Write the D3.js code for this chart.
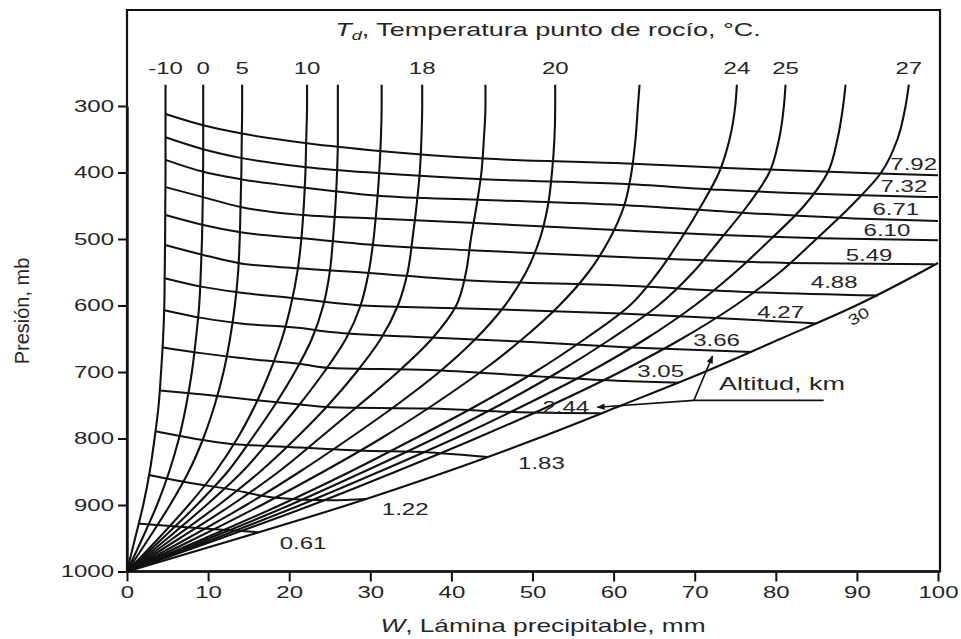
<!DOCTYPE html>
<html>
<head>
<meta charset="utf-8">
<script src="https://cdn.jsdelivr.net/npm/d3@7"></script>
<style>
  body { margin: 0; background: #fff; }
  svg text { font-family: "Liberation Sans", Arial, sans-serif; fill: #262626; }
</style>
</head>
<body>
<svg id="grafico" width="961" height="639"></svg>
<script>
'use strict';

// ticks
var wTicks = [0, 10, 20, 30, 40, 50, 60, 70, 80, 90, 100];
var presionTicks = [300, 400, 500, 600, 700, 800, 900, 1000];

// pressure levels (mb) at which each dew-point curve was read, top to bottom
var niveles = [268, 300, 350, 400, 450, 500, 550, 600, 650, 700, 750, 800, 850, 900, 950, 1000];

// precipitable water W (mm) of each dew-point curve at those levels, left to right
var wTd1 = [4.75, 4.75, 4.75, 4.75, 4.72, 4.7, 4.65, 4.6, 4.45, 4.2, 3.9, 3.4, 2.8, 2.0, 1.0, 0];
var wTd2 = [9.4, 9.4, 9.4, 9.38, 9.33, 9.25, 9.1, 8.9, 8.5, 8.0, 7.3, 6.4, 5.2, 3.7, 1.9, 0];
var wTd3 = [14.2, 14.2, 14.15, 14.1, 14.0, 13.9, 13.7, 13.3, 12.7, 11.9, 10.8, 9.4, 7.6, 5.3, 2.7, 0];
var wTd4 = [22.2, 22.2, 22.1, 22.0, 21.8, 21.5, 21.0, 20.2, 19.1, 17.6, 15.8, 13.6, 10.9, 7.6, 3.9, 0];
var wTd5 = [26.0, 26.0, 26.0, 25.9, 25.7, 25.4, 25.0, 24.2, 22.8, 20.7, 18.2, 15.4, 12.4, 8.6, 4.4, 0];
var wTd6 = [31.4, 31.4, 31.3, 31.1, 30.8, 30.4, 29.8, 28.8, 27.0, 24.3, 21.2, 17.8, 14.2, 9.8, 5.0, 0];
var wTd7 = [36.4, 36.4, 36.3, 36.1, 35.7, 35.2, 34.6, 33.4, 31.3, 28.3, 24.8, 20.8, 16.4, 11.3, 5.7, 0];
var wTd8 = [44.2, 44.2, 44.0, 43.7, 43.1, 42.4, 41.8, 40.6, 37.6, 33.4, 28.6, 23.7, 18.7, 12.9, 6.5, 0];
var wTd9 = [52.8, 52.8, 52.7, 52.4, 51.9, 50.9, 49.2, 46.6, 43.0, 38.5, 33.2, 27.4, 21.3, 14.7, 7.5, 0];
var wTd10 = [63.2, 63.0, 62.7, 62.2, 61.3, 59.5, 56.9, 53.3, 48.8, 43.6, 37.7, 31.3, 24.2, 16.6, 8.5, 0];
var wTd11 = [75.2, 75.0, 74.3, 73.0, 70.8, 68.3, 65.5, 62.0, 56.5, 50.3, 43.2, 35.5, 27.5, 18.9, 9.6, 0];
var wTd12 = [81.2, 81.0, 80.4, 79.2, 76.5, 73.2, 69.8, 65.5, 59.7, 53.2, 45.9, 37.9, 29.2, 20.1, 10.2, 0];
var wTd13 = [88.6, 88.3, 87.6, 86.4, 83.5, 79.4, 75.0, 70.0, 64.0, 57.0, 49.0, 40.4, 31.1, 21.4, 10.9, 0];
var wTd14 = [96.4, 96.0, 95.0, 93.0, 89.3, 85.0, 80.5, 75.0, 68.4, 60.8, 52.3, 43.0, 33.1, 22.8, 11.6, 0];
var etiquetasRocio = ['-10', '0', '5', '10', '', '', '18', '', '20', '', '24', '25', '', '27'];

// lower envelope (30 °C curve), ends on the right border
var nivelesEnvolvente = [536, 550, 600, 650, 700, 750, 800, 850, 900, 950, 1000];
var wEnvolvente = [100, 97.9, 89.9, 80.6, 71.2, 61.0, 50.6, 39.4, 27.2, 13.8, 0];

// altitude lines, [W mm, p mb]
var alt061 = [[1.4, 928], [9.0, 935], [16.2, 941]];
var alt122 = [[2.7, 855], [7.8, 867], [12.1, 875], [18.3, 889], [25.1, 893], [29.6, 891]];
var alt183 = [[3.5, 789], [12.1, 807], [20.4, 813], [28.5, 818], [37.4, 821], [44.5, 828]];
var alt244 = [[4.05, 728], [9.4, 734], [14.0, 740], [21.4, 749], [25.1, 753], [37.4, 755], [49.8, 761], [58.4, 762]];
var alt305 = [[4.4, 663], [9.4, 672], [14.0, 679], [21.4, 688], [25.1, 694], [37.4, 697], [49.8, 706], [62.1, 714], [68.0, 716]];
var alt366 = [[4.6, 607], [9.4, 619], [14.0, 627], [21.4, 634], [25.1, 640], [37.4, 648], [49.8, 655], [62.1, 663], [77.0, 670]];
var alt427 = [[4.65, 559], [9.3, 572], [13.6, 580], [20.5, 589], [29.0, 600], [40.9, 604], [60.9, 612], [73.2, 619], [85.0, 627]];
var alt488 = [[4.7, 509], [9.4, 524], [13.7, 536], [21.1, 544], [29.8, 551], [41.7, 562], [60.9, 570], [77.3, 580], [92.6, 585]];
var alt549 = [[4.75, 464], [9.4, 479], [14.0, 490], [21.6, 499], [30.4, 509], [42.3, 517], [60.9, 527], [81.5, 536], [99.5, 538]];
var alt610 = [[4.75, 422], [9.4, 437], [14.0, 452], [21.7, 464], [30.6, 469], [43.0, 476], [60.9, 487], [73.2, 494], [85.6, 499], [100, 502]];
var alt671 = [[4.75, 381], [9.4, 399], [14.0, 410], [22.0, 423], [31.0, 435], [43.3, 441], [60.9, 449], [75.3, 460], [89.6, 469], [100, 473]];
var alt732 = [[4.75, 347], [9.4, 365], [14.0, 378], [22.2, 392], [31.2, 401], [43.8, 410], [60.9, 417], [73.2, 426], [89.6, 434], [100, 437]];
var alt792 = [[4.75, 312], [9.4, 329], [14.0, 341], [22.2, 356], [31.5, 368], [44.0, 379], [60.9, 386], [73.2, 393], [91.7, 401], [100, 404]];
var etiquetasAltitud = ['0.61', '1.22', '1.83', '2.44', '3.05', '3.66', '4.27', '4.88', '5.49', '6.10', '6.71', '7.32', '7.92'];

// where the altitude labels sit, [W, p]
var posEtiquetasAltitud = [[21.7, 958], [34.3, 907], [51.1, 837], [54.1, 753], [65.8, 699], [72.7, 652],
  [80.6, 610], [87.2, 565], [91.5, 524], [93.7, 487], [94.8, 455], [95.8, 420], [97.0, 387]];

var svg = d3.select('#grafico');
var x = d3.scaleLinear().domain([0, 100]).range([127, 938]);
var y = d3.scaleLinear().domain([300, 1000]).range([106, 571.5]);
var ancho = 1.5; // lettering in the scan is stretched sideways

function escala(px, py) {
  return 'translate(' + px + ',' + py + ') scale(' + ancho + ',1)';
}

var linea = d3.line()
  .x(function (d) { return x(d[0]); })
  .y(function (d) { return y(d[1]); });

// frame
svg.append('path')
  .attr('d', 'M' + x(0) + ',' + y(1000) + 'V10H' + (x(100) + 2) + 'V' + y(1000) + 'Z')
  .attr('fill', 'none').attr('stroke', '#111').attr('stroke-width', 2.2);

// dew-point curves
var curvasRocio = [wTd1, wTd2, wTd3, wTd4, wTd5, wTd6, wTd7, wTd8, wTd9, wTd10, wTd11, wTd12, wTd13, wTd14];
var lineaRocio = d3.line()
  .x(function (d) { return x(d[0]); })
  .y(function (d) { return y(d[1]); })
  .curve(d3.curveMonotoneY);

svg.append('g').selectAll('path').data(curvasRocio).enter()
  .append('path')
  .attr('d', function (ws) { return lineaRocio(ws.map(function (w, i) { return [w, niveles[i]]; })); })
  .attr('fill', 'none').attr('stroke', '#111').attr('stroke-width', 2.1);

svg.append('path')
  .attr('d', lineaRocio(wEnvolvente.map(function (w, i) { return [w, nivelesEnvolvente[i]]; })))
  .attr('fill', 'none').attr('stroke', '#111').attr('stroke-width', 2.1);

// altitude lines
var lineasAltitud = [alt061, alt122, alt183, alt244, alt305, alt366, alt427, alt488, alt549, alt610, alt671, alt732, alt792];
var lineaAltitud = d3.line()
  .x(function (d) { return x(d[0]); })
  .y(function (d) { return y(d[1]); })
  .curve(d3.curveMonotoneX);

svg.append('g').selectAll('path').data(lineasAltitud).enter()
  .append('path')
  .attr('d', lineaAltitud)
  .attr('fill', 'none').attr('stroke', '#111').attr('stroke-width', 2);

svg.append('g').selectAll('text').data(etiquetasAltitud).enter()
  .append('text')
  .attr('transform', function (d, i) { return escala(x(posEtiquetasAltitud[i][0]), y(posEtiquetasAltitud[i][1])); })
  .attr('text-anchor', 'middle').attr('dy', '0.36em')
  .style('font-size', '16px')
  .text(function (d) { return d; });

// dew-point labels on top of the curves
svg.append('g').selectAll('text').data(curvasRocio).enter()
  .append('text')
  .attr('transform', function (ws) { return escala(x(ws[0]), 68); })
  .attr('text-anchor', 'middle').attr('dy', '0.36em')
  .style('font-size', '16px')
  .text(function (ws, i) { return etiquetasRocio[i]; });

// label of the envelope
svg.append('text')
  .attr('transform', 'translate(' + x(90.2) + ',' + y(616) + ') rotate(-30) scale(1.3,1)')
  .attr('text-anchor', 'middle').attr('dy', '0.36em')
  .style('font-size', '15px')
  .text('30');

// "Altitud, km" callout
var defs = svg.append('defs');
defs.append('marker').attr('id', 'flecha')
  .attr('viewBox', '0 0 10 10').attr('refX', 9).attr('refY', 5)
  .attr('markerUnits', 'userSpaceOnUse').attr('markerWidth', 12).attr('markerHeight', 8)
  .attr('orient', 'auto')
  .append('path').attr('d', 'M0,1L10,5L0,9Z').attr('fill', '#111');

var guiaAltitud = [[85.9, 742.6], [69.9, 742.6]];
var flechaArriba = [[69.9, 742.6], [72.2, 676]];
var flechaIzquierda = [[69.9, 742.6], [58.0, 753]];
svg.append('path').attr('d', linea(guiaAltitud))
  .attr('fill', 'none').attr('stroke', '#111').attr('stroke-width', 1.6);
[flechaArriba, flechaIzquierda].forEach(function (f) {
  svg.append('path').attr('d', linea(f))
    .attr('fill', 'none').attr('stroke', '#111').attr('stroke-width', 1.6)
    .attr('marker-end', 'url(#flecha)');
});
svg.append('text')
  .attr('transform', escala(x(73.0), y(717)))
  .attr('dy', '0.36em')
  .style('font-size', '18px')
  .text('Altitud, km');

// axes
var ejeX = svg.append('g')
  .attr('transform', 'translate(0,' + y(1000) + ')')
  .call(d3.axisBottom(x).tickValues(wTicks).tickSize(10).tickSizeOuter(0).tickPadding(5));
ejeX.attr('font-size', null).attr('font-family', null);
ejeX.select('.domain').attr('d', 'M' + x(0) + ',0H' + (x(100) + 2)).attr('stroke', '#111').attr('stroke-width', 2.4);
ejeX.selectAll('.tick line').attr('stroke', '#111').attr('stroke-width', 2);
ejeX.selectAll('.tick text').attr('transform', 'scale(' + ancho + ',1)').style('font-size', '16px').attr('fill', null);

var ejeY = svg.append('g')
  .attr('transform', 'translate(' + x(0) + ',0)')
  .call(d3.axisLeft(y).tickValues(presionTicks).tickFormat(d3.format('d')).tickSize(9).tickSizeOuter(0));
ejeY.attr('font-size', null).attr('font-family', null);
ejeY.select('.domain').attr('stroke', '#111').attr('stroke-width', 2.4);
ejeY.selectAll('.tick line').attr('stroke', '#111').attr('stroke-width', 2);
ejeY.selectAll('.tick text').attr('x', 0).attr('transform', 'translate(-13,0) scale(' + ancho + ',1)')
  .style('font-size', '16px').attr('fill', null);

// titles
var titulo = svg.append('text')
  .attr('transform', escala(548, 36))
  .attr('text-anchor', 'middle')
  .style('font-size', '18px');
titulo.append('tspan').style('font-style', 'italic').text('T');
titulo.append('tspan').style('font-style', 'italic').style('font-size', '12px').attr('dy', 4).text('d');
titulo.append('tspan').attr('dy', -4).text(', Temperatura punto de rocío, °C.');

var tituloX = svg.append('text')
  .attr('transform', escala(543, 632))
  .attr('text-anchor', 'middle')
  .style('font-size', '17.5px');
tituloX.append('tspan').style('font-style', 'italic').text('W');
tituloX.append('tspan').text(', Lámina precipitable, mm');

svg.append('text')
  .attr('transform', 'translate(29,311) rotate(-90)')
  .attr('text-anchor', 'middle')
  .style('font-size', '20px')
  .text('Presión, mb');
</script>
</body>
</html>
